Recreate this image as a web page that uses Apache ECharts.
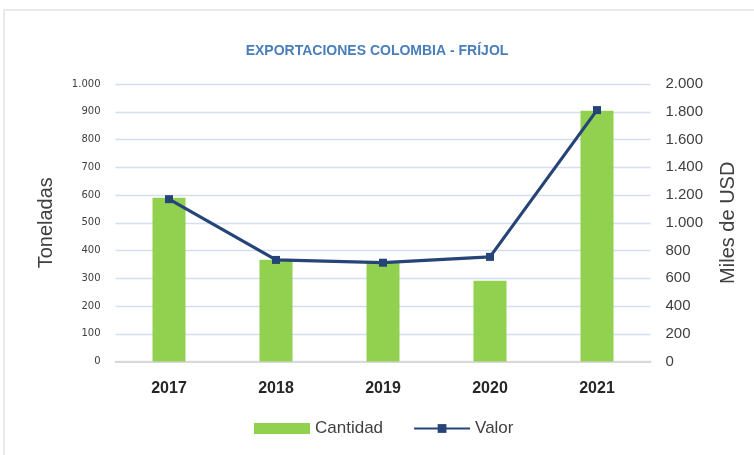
<!DOCTYPE html>
<html><head><meta charset="utf-8">
<script src="https://cdn.jsdelivr.net/npm/echarts@6/dist/echarts.min.js"></script>
<style>html,body{margin:0;padding:0;background:#fff}#c{width:754px;height:455px}</style>
</head><body><div id="c"></div>
<script>
const years = ['2017','2018','2019','2020','2021'];
const cantidad = [590, 367, 355, 291, 904];
const valor = [1170, 732, 712, 754, 1812];
const leftTicks = {min:0, max:1000, interval:100};
const rightTicks = {min:0, max:2000, interval:200};

function fmt(v){ return String(v).replace(/\B(?=(\d{3})+(?!\d))/g,'.'); }

const chart = echarts.init(document.getElementById('c'));
chart.setOption({
  animation:false,
  backgroundColor:'#fff',
  graphic:[{type:'rect',shape:{x:4,y:10,width:800,height:500},style:{fill:'none',stroke:'#e3e3e3',lineWidth:1.5},silent:true}],
  title:{text:'EXPORTACIONES COLOMBIA - FRÍJOL',left:'center',top:39,
    textStyle:{fontFamily:'Liberation Sans',fontSize:14,fontWeight:'bold',color:'#4a7ebb'}},
  grid:{left:115.5,right:103.5,top:84,bottom:93.5},
  legend:{left:249,top:415,itemWidth:56,itemHeight:11,itemGap:30,
    textStyle:{fontFamily:'Liberation Sans',fontSize:17,color:'#404040'},
    data:[{name:'Cantidad',icon:'rect'},{name:'Valor'}]},
  xAxis:{type:'category',data:years,
    axisLine:{lineStyle:{color:'#d9d9d9',width:2}},axisTick:{show:false},
    axisLabel:{margin:19,fontFamily:'Liberation Sans',fontSize:16,fontWeight:'bold',color:'#262626'}},
  yAxis:[
    {type:'value',min:leftTicks.min,max:leftTicks.max,interval:leftTicks.interval,
     name:'Toneladas',nameLocation:'middle',nameGap:59,
     nameTextStyle:{fontFamily:'Liberation Sans',fontSize:20,color:'#404040'},
     axisLine:{show:false},axisTick:{show:false},
     splitLine:{lineStyle:{color:'#d3dff0',width:1.3}},
     axisLabel:{margin:15,fontFamily:'DejaVu Sans',fontSize:10,color:'#404040',formatter:fmt}},
    {type:'value',min:rightTicks.min,max:rightTicks.max,interval:rightTicks.interval,
     name:'Miles de USD',nameLocation:'middle',nameGap:68,
     nameTextStyle:{fontFamily:'Liberation Sans',fontSize:20,color:'#404040'},
     axisLine:{show:false},axisTick:{show:false},splitLine:{show:false},
     axisLabel:{margin:15,fontFamily:'Liberation Sans',fontSize:15,color:'#404040',formatter:fmt}}
  ],
  series:[
    {name:'Cantidad',type:'bar',yAxisIndex:0,data:cantidad,barWidth:33,
     itemStyle:{color:'#92d050'}},
    {name:'Valor',type:'line',yAxisIndex:1,data:valor,symbol:'rect',symbolSize:8,
     lineStyle:{color:'#264478',width:3.2},itemStyle:{color:'#264478'}}
  ]
});
</script></body></html>
